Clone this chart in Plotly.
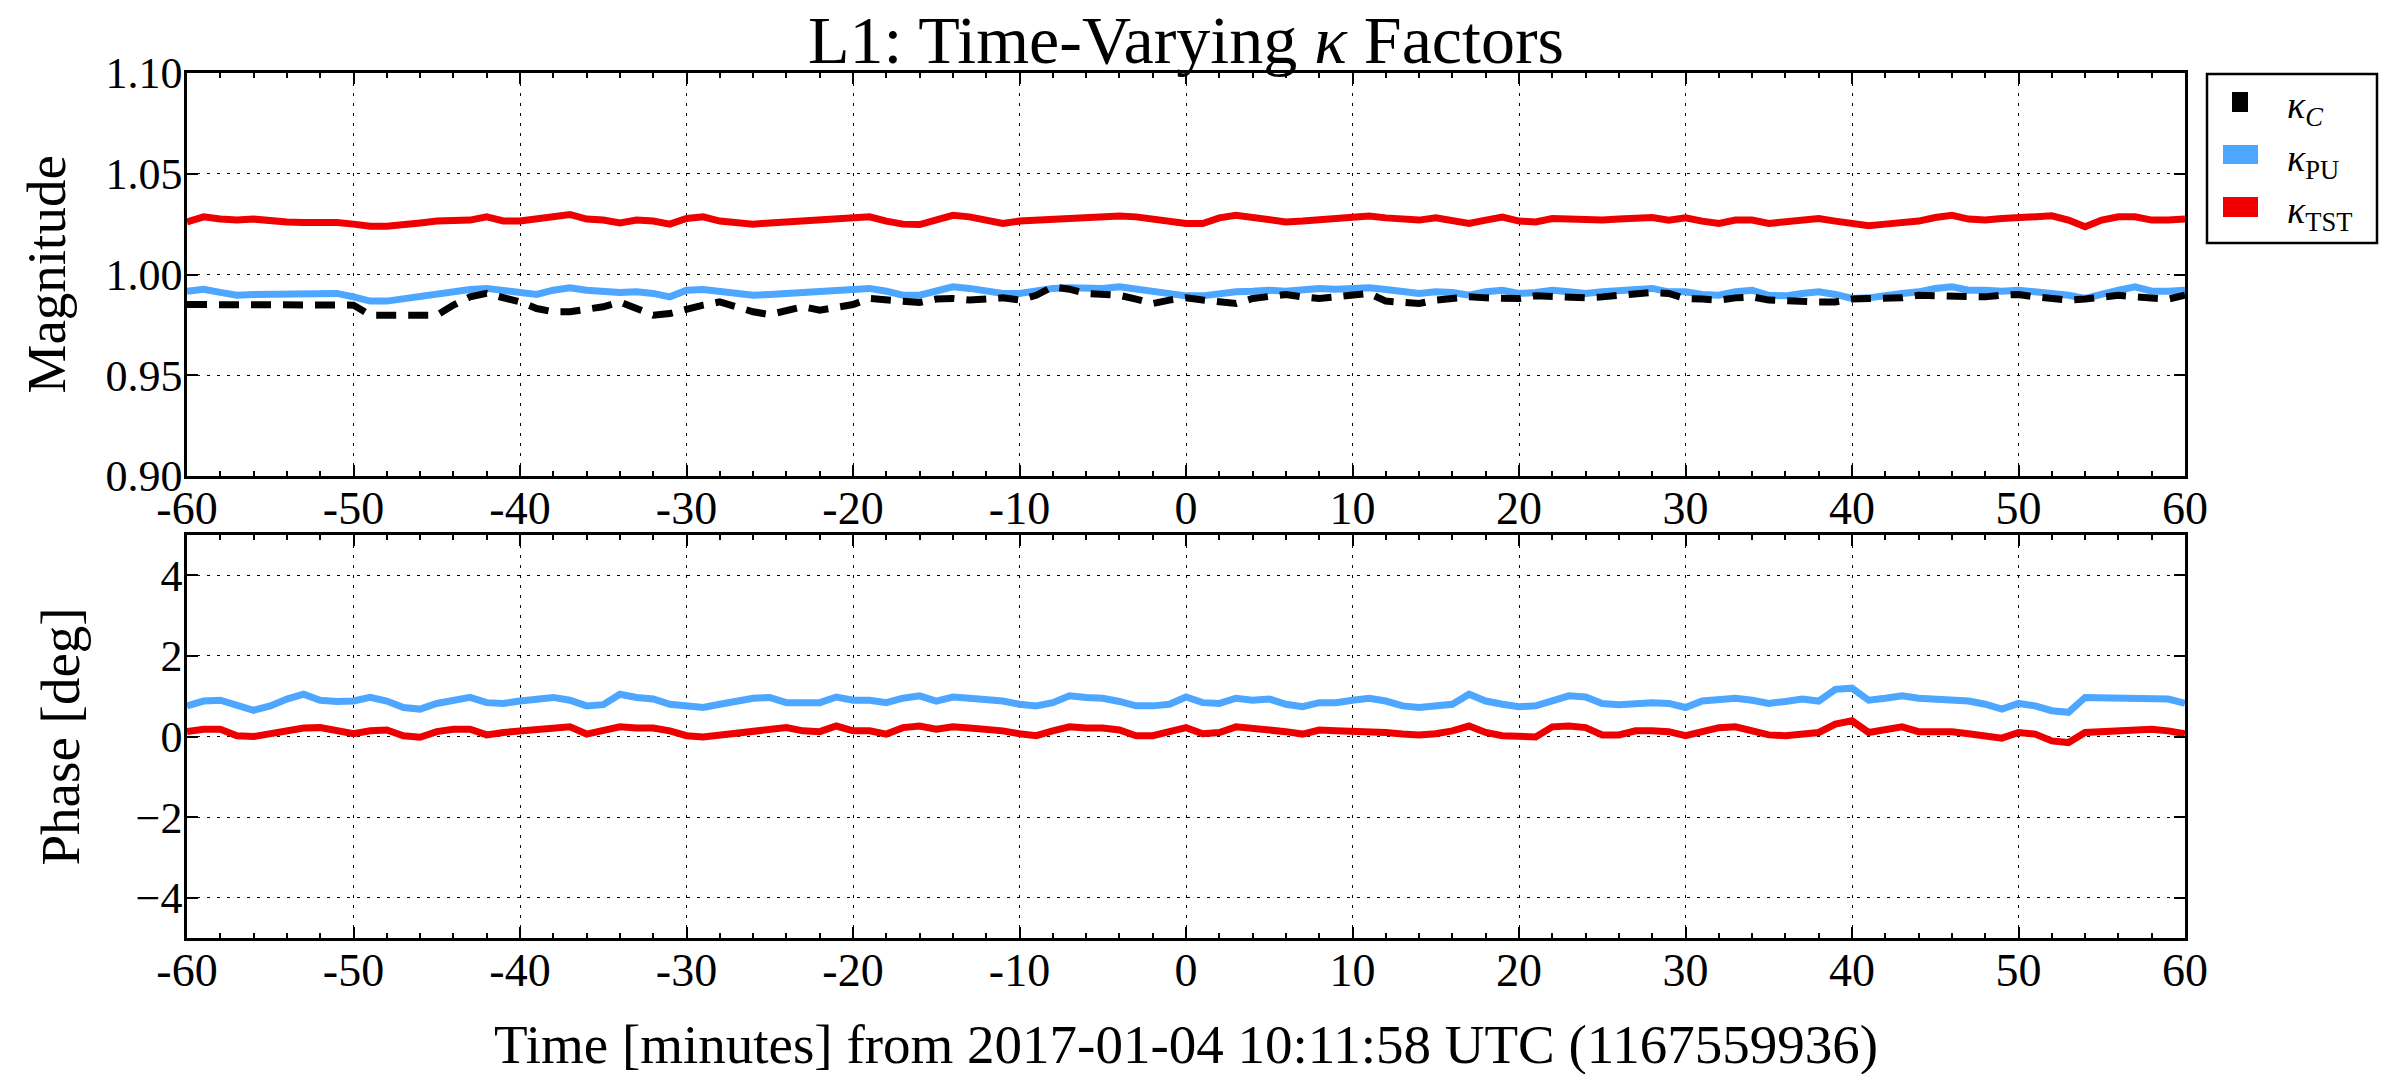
import plotly.graph_objects as go

# Time axis: minutes relative to the reference GPS time
minutes = list(range(-60, 61))

# Magnitude of the time-varying factors (one sample per minute)
mag_c = [
    0.9851, 0.9851, 0.9851, 0.9851, 0.9851, 0.9851, 0.9851, 0.9851, 0.9851, 0.9851,
    0.9848, 0.9798, 0.9798, 0.9798, 0.9798, 0.9798, 0.9848, 0.9889, 0.9906, 0.9889,
    0.9864, 0.9831, 0.9815, 0.9815, 0.9828, 0.9840, 0.9864, 0.9828, 0.9798, 0.9806,
    0.9831, 0.9848, 0.9864, 0.9840, 0.9815, 0.9801, 0.9823, 0.9840, 0.9823, 0.9840,
    0.9851, 0.9881, 0.9873, 0.9864, 0.9861, 0.9878, 0.9881, 0.9873, 0.9881, 0.9884,
    0.9873, 0.9897, 0.9939, 0.9927, 0.9906, 0.9901, 0.9897, 0.9878, 0.9856, 0.9873,
    0.9884, 0.9873, 0.9868, 0.9856, 0.9881, 0.9894, 0.9901, 0.9889, 0.9881, 0.9889,
    0.9901, 0.9906, 0.9868, 0.9861, 0.9856, 0.9873, 0.9884, 0.9889, 0.9884, 0.9881,
    0.9881, 0.9894, 0.9889, 0.9881, 0.9884, 0.9889, 0.9897, 0.9906, 0.9911, 0.9906,
    0.9881, 0.9878, 0.9873, 0.9884, 0.9889, 0.9873, 0.9868, 0.9868, 0.9864, 0.9864,
    0.9878, 0.9881, 0.9881, 0.9884, 0.9897, 0.9894, 0.9897, 0.9894, 0.9889, 0.9897,
    0.9901, 0.9889, 0.9881, 0.9873, 0.9878, 0.9889, 0.9897, 0.9889, 0.9881, 0.9878,
    0.9897,
]
mag_pu = [
    0.9917, 0.9927, 0.9911, 0.9897, 0.9901, 0.9901, 0.9904, 0.9901, 0.9904, 0.9906,
    0.9889, 0.9868, 0.9868, 0.9881, 0.9889, 0.9901, 0.9914, 0.9926, 0.9931, 0.9922,
    0.9906, 0.9901, 0.9922, 0.9934, 0.9922, 0.9914, 0.9911, 0.9914, 0.9906, 0.9889,
    0.9922, 0.9926, 0.9914, 0.9902, 0.9897, 0.9901, 0.9906, 0.9911, 0.9911, 0.9914,
    0.9922, 0.9931, 0.9917, 0.9897, 0.9897, 0.9917, 0.9939, 0.9931, 0.9917, 0.9906,
    0.9906, 0.9922, 0.9931, 0.9934, 0.9931, 0.9931, 0.9939, 0.9927, 0.9914, 0.9906,
    0.9894, 0.9894, 0.9906, 0.9914, 0.9917, 0.9922, 0.9917, 0.9922, 0.9931, 0.9927,
    0.9931, 0.9934, 0.9926, 0.9914, 0.9906, 0.9914, 0.9911, 0.9897, 0.9914, 0.9922,
    0.9906, 0.9911, 0.9922, 0.9914, 0.9906, 0.9914, 0.9917, 0.9922, 0.9931, 0.9914,
    0.9914, 0.9901, 0.9897, 0.9914, 0.9922, 0.9897, 0.9894, 0.9906, 0.9914, 0.9901,
    0.9881, 0.9884, 0.9897, 0.9906, 0.9914, 0.9931, 0.9939, 0.9922, 0.9922, 0.9917,
    0.9922, 0.9914, 0.9906, 0.9897, 0.9881, 0.9906, 0.9922, 0.9939, 0.9917, 0.9917,
    0.9922,
]
mag_tst = [
    1.0261, 1.0286, 1.0275, 1.0270, 1.0275, 1.0265, 1.0261, 1.0258, 1.0261, 1.0258,
    1.0250, 1.0240, 1.0240, 1.0245, 1.0256, 1.0265, 1.0270, 1.0270, 1.0286, 1.0266,
    1.0266, 1.0275, 1.0283, 1.0298, 1.0275, 1.0270, 1.0256, 1.0270, 1.0265, 1.0250,
    1.0278, 1.0286, 1.0265, 1.0256, 1.0250, 1.0256, 1.0261, 1.0265, 1.0265, 1.0270,
    1.0281, 1.0286, 1.0265, 1.0250, 1.0248, 1.0270, 1.0294, 1.0286, 1.0270, 1.0253,
    1.0265, 1.0270, 1.0275, 1.0278, 1.0283, 1.0286, 1.0290, 1.0286, 1.0275, 1.0265,
    1.0253, 1.0253, 1.0281, 1.0294, 1.0281, 1.0270, 1.0261, 1.0265, 1.0270, 1.0275,
    1.0278, 1.0290, 1.0281, 1.0275, 1.0270, 1.0281, 1.0270, 1.0253, 1.0270, 1.0285,
    1.0265, 1.0261, 1.0278, 1.0275, 1.0270, 1.0270, 1.0275, 1.0278, 1.0283, 1.0270,
    1.0281, 1.0265, 1.0253, 1.0270, 1.0270, 1.0253, 1.0261, 1.0275, 1.0278, 1.0265,
    1.0253, 1.0242, 1.0250, 1.0256, 1.0265, 1.0283, 1.0294, 1.0275, 1.0270, 1.0278,
    1.0281, 1.0290, 1.0291, 1.0270, 1.0237, 1.0270, 1.0286, 1.0286, 1.0270, 1.0270,
    1.0275,
]

# Phase of the time-varying factors [deg]
phase_pu = [
    0.76, 0.88, 0.90, 0.76, 0.65, 0.76, 0.93, 1.05, 0.90, 0.87,
    0.88, 0.97, 0.88, 0.72, 0.68, 0.82, 0.90, 0.97, 0.84, 0.82,
    0.88, 0.93, 0.97, 0.90, 0.76, 0.79, 1.05, 0.97, 0.93, 0.80,
    0.76, 0.72, 0.80, 0.88, 0.95, 0.97, 0.84, 0.84, 0.84, 0.98,
    0.90, 0.90, 0.84, 0.95, 1.01, 0.88, 0.98, 0.95, 0.93, 0.88,
    0.80, 0.76, 0.84, 1.01, 0.97, 0.95, 0.87, 0.76, 0.76, 0.80,
    0.98, 0.84, 0.82, 0.95, 0.90, 0.93, 0.80, 0.74, 0.84, 0.84,
    0.90, 0.95, 0.88, 0.76, 0.72, 0.74, 0.80, 1.05, 0.88, 0.80,
    0.74, 0.76, 0.88, 1.01, 0.98, 0.82, 0.79, 0.82, 0.84, 0.82,
    0.72, 0.88, 0.93, 0.95, 0.90, 0.82, 0.87, 0.93, 0.88, 1.17,
    1.20, 0.90, 0.95, 1.01, 0.95, 0.93, 0.88, 0.88, 0.80, 0.68,
    0.82, 0.76, 0.64, 0.60, 0.97, 0.97, 0.93, 0.97, 0.97, 0.93,
    0.82,
]
phase_tst = [
    0.12, 0.18, 0.18, 0.02, 0.00, 0.07, 0.10, 0.21, 0.22, 0.14,
    0.07, 0.14, 0.16, 0.02, -0.02, 0.12, 0.18, 0.18, 0.04, 0.10,
    0.14, 0.18, 0.22, 0.24, 0.06, 0.14, 0.24, 0.21, 0.21, 0.14,
    0.02, -0.01, 0.04, 0.07, 0.16, 0.18, 0.22, 0.14, 0.12, 0.26,
    0.14, 0.14, 0.06, 0.22, 0.26, 0.18, 0.24, 0.21, 0.18, 0.14,
    0.07, 0.02, 0.14, 0.24, 0.21, 0.21, 0.16, 0.02, 0.02, 0.10,
    0.22, 0.07, 0.10, 0.24, 0.21, 0.18, 0.12, 0.06, 0.16, 0.14,
    0.14, 0.12, 0.10, 0.06, 0.04, 0.07, 0.14, 0.26, 0.10, 0.02,
    0.02, -0.01, 0.24, 0.26, 0.22, 0.04, 0.04, 0.14, 0.14, 0.12,
    0.02, 0.12, 0.22, 0.24, 0.12, 0.04, 0.02, 0.06, 0.10, 0.31,
    0.39, 0.10, 0.18, 0.24, 0.12, 0.12, 0.12, 0.07, 0.02, -0.04,
    0.10, 0.06, -0.11, -0.15, 0.10, 0.12, 0.12, 0.18, 0.18, 0.14,
    0.07,
]

# Tick labels
x_tick_vals = [-60, -50, -40, -30, -20, -10, 0, 10, 20, 30, 40, 50, 60]
x_tick_text = ["-60", "-50", "-40", "-30", "-20", "-10", "0",
               "10", "20", "30", "40", "50", "60"]
mag_tick_vals = [0.90, 0.95, 1.00, 1.05, 1.10]
phase_tick_vals = [-4, -2, 0, 2, 4]

# Legend labels
names = ["<i>κ</i><sub><i>C</i></sub>", "<i>κ</i><sub>PU</sub>", "<i>κ</i><sub>TST</sub>"]

BLACK = "black"
BLUE = "#4da6ff"
RED = "#ee0000"
FONT = "Liberation Serif"

# Figure geometry (pixels) and helpers to convert to paper coordinates
W, H = 2391, 1074
L, R, T, B = 187, 2185, 73, 938


def px(x):
    return (x - L) / (R - L)


def py(y):
    return (B - y) / (B - T)


fig = go.Figure()

# Magnitude panel
fig.add_trace(go.Scatter(x=minutes, y=mag_pu, mode="lines", xaxis="x", yaxis="y",
                         name=names[1], line=dict(color=BLUE, width=7), showlegend=False))
fig.add_trace(go.Scatter(x=minutes, y=mag_tst, mode="lines", xaxis="x", yaxis="y",
                         name=names[2], line=dict(color=RED, width=7), showlegend=False))
fig.add_trace(go.Scatter(x=minutes, y=mag_c, mode="lines", xaxis="x", yaxis="y",
                         name=names[0], line=dict(color=BLACK, width=7, dash="20px,12px"),
                         showlegend=False))

# Phase panel
fig.add_trace(go.Scatter(x=minutes, y=phase_pu, mode="lines", xaxis="x2", yaxis="y2",
                         name=names[1], line=dict(color=BLUE, width=7), showlegend=False))
fig.add_trace(go.Scatter(x=minutes, y=phase_tst, mode="lines", xaxis="x2", yaxis="y2",
                         name=names[2], line=dict(color=RED, width=7), showlegend=False))

grid_dash = "3px,7px"
common_x = dict(
    range=[-60, 60], tickmode="array", tickvals=x_tick_vals, ticktext=x_tick_text,
    ticks="inside", ticklen=11, tickwidth=1.5, tickcolor="black",
    showline=True, linecolor="black", linewidth=2.5, mirror="allticks",
    showgrid=True, gridcolor="black", gridwidth=1.3, griddash=grid_dash,
    zeroline=False, tickfont=dict(family=FONT, size=46, color="black"),
    ticklabelstandoff=-10,
    minor=dict(ticks="inside", ticklen=5, tickwidth=1.5, tickcolor="black",
               tickmode="linear", tick0=-60, dtick=2, showgrid=False),
)
common_y = dict(
    ticks="inside", ticklen=11, tickwidth=1.5, tickcolor="black",
    showline=True, linecolor="black", linewidth=2.5, mirror="allticks",
    showgrid=True, gridcolor="black", gridwidth=1.3, griddash=grid_dash,
    zeroline=False, tickfont=dict(family=FONT, size=44, color="black"),
    ticklabelstandoff=-7,
)

# Legend box drawn in paper coordinates at the right of the panels
legend_shapes = [
    dict(type="rect", xref="paper", yref="paper",
         x0=px(2207), x1=px(2377), y0=py(243), y1=py(74),
         line=dict(color="black", width=2.5), fillcolor="white", layer="above"),
]
swatches = [
    (BLACK, 2232, 2248, 92, 112),
    (BLUE, 2223, 2258, 145, 164),
    (RED, 2223, 2258, 197, 217),
]
legend_text = []
for (col, x0, x1, y0, y1), nm in zip(swatches, names):
    legend_shapes.append(dict(type="rect", xref="paper", yref="paper",
                              x0=px(x0), x1=px(x1), y0=py(y1), y1=py(y0),
                              line=dict(width=0), fillcolor=col, layer="above"))
    legend_text.append(dict(text=nm, xref="paper", yref="paper",
                            x=px(2285), y=py((y0 + y1) / 2 + 6),
                            xanchor="left", yanchor="middle", showarrow=False,
                            font=dict(family=FONT, size=38, color="black")))

fig.update_layout(
    width=W, height=H,
    margin=dict(l=L, r=W - R, t=T, b=H - B),
    paper_bgcolor="white", plot_bgcolor="white",
    font=dict(family=FONT, color="black"),
    showlegend=False,
    title=dict(text="L1: Time-Varying <i>κ</i> Factors", x=0.5, xref="paper",
               xanchor="center", y=1 - 39 / H, yref="container", yanchor="middle",
               font=dict(family=FONT, size=68, color="black")),
    xaxis=dict(domain=[0, 1], anchor="y", **common_x),
    yaxis=dict(domain=[py(476), 1], anchor="x", range=[0.90, 1.10],
               tickmode="array", tickvals=mag_tick_vals, tickformat=".2f", **common_y),
    xaxis2=dict(domain=[0, 1], anchor="y2", **common_x),
    yaxis2=dict(domain=[0, py(535)], anchor="x2", range=[-5, 5],
                tickmode="array", tickvals=phase_tick_vals, **common_y),
    shapes=legend_shapes,
    annotations=legend_text + [
        dict(text="Magnitude", xref="x domain", yref="y domain",
             x=px(46), y=0.5, textangle=-90, showarrow=False,
             xanchor="center", yanchor="middle",
             font=dict(family=FONT, size=55, color="black")),
        dict(text="Phase [deg]", xref="x2 domain", yref="y2 domain",
             x=px(60), y=0.5, textangle=-90, showarrow=False,
             xanchor="center", yanchor="middle",
             font=dict(family=FONT, size=55, color="black")),
        dict(text="Time [minutes] from 2017-01-04 10:11:58 UTC (1167559936)",
             xref="paper", yref="paper", x=0.5, y=py(1044),
             showarrow=False, xanchor="center", yanchor="middle",
             font=dict(family=FONT, size=55, color="black")),
    ],
)

fig.write_html("out.html")
